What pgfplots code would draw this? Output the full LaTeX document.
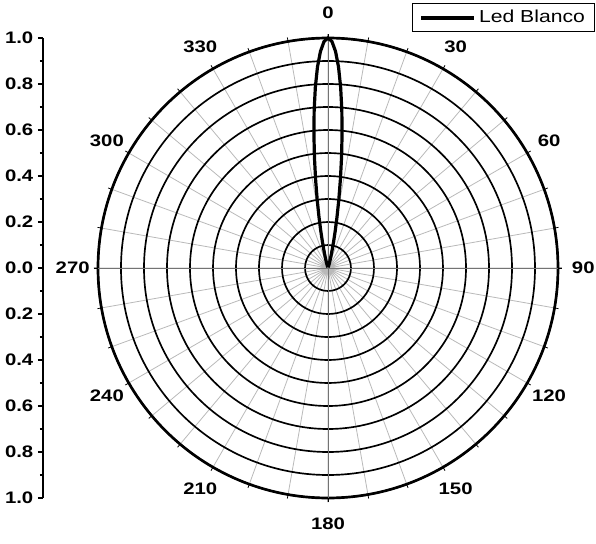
\documentclass[border=0pt]{standalone}
\usepackage{fontspec}
\setmainfont{Liberation Sans}[FakeStretch=1.22]
\usepackage{pgfplots}
\usepgfplotslibrary{polar}
\pgfplotsset{compat=1.18}

\begin{document}
\begin{tikzpicture}[font=\fontsize{12.5}{14}\selectfont]
\useasboundingbox (-246pt,-206.25pt) rectangle (201pt,201pt);

% left radial scale
\begin{axis}[
    at={(-213.75pt,0pt)}, anchor=west,
    scale only axis, width=5pt, height=345pt,
    xmin=0, xmax=1, ymin=-1, ymax=1,
    axis x line=none, axis y line*=left,
    y axis line style={-, line width=1pt},
    ytick={-1,-0.8,-0.6,-0.4,-0.2,0,0.2,0.4,0.6,0.8,1},
    yticklabels={1.0,0.8,0.6,0.4,0.2,0.0,0.2,0.4,0.6,0.8,1.0},
    yticklabel style={font=\fontsize{12.5}{14}\selectfont\bfseries},
    minor y tick num=1,
    tick align=outside,
    major tick length=3.75pt, minor tick length=2.25pt,
    ytick style={line width=0.8pt, black},
]
\end{axis}

\begin{polaraxis}[
    at={(0pt,0pt)}, anchor=center,
    scale only axis, width=345pt, height=345pt,
    ymin=0, ymax=1,
    ytick={0.1,0.2,0.3,0.4,0.5,0.6,0.7,0.8,0.9,1},
    yticklabels={},
    ytick style={draw=none},
    y axis line style={draw=none},
    xtick={0,10,...,350},
    xticklabels={},
    xtick style={black, line width=0.6pt},
    major tick length=3pt,
    grid=major,
    major x grid style={gray!55, line width=0.6pt},
    major y grid style={black, line width=1.25pt},
    extra x ticks={0,90,180,270},
    extra x tick labels={},
    extra x tick style={grid=major, major x grid style={gray!90!black, line width=0.7pt}},
    axis line style={line width=2pt},
    clip=false,
    legend style={at={(1.08,1.076)}, anchor=north east, draw=black,
        line width=0.8pt, inner xsep=5pt, inner ysep=3pt,
        font=\fontsize{13}{15}\selectfont},
    legend image code/.code={\draw[#1, line width=3pt] (0pt,0pt) -- (40pt,0pt);},
]
\addplot[black, line width=2.4pt, x filter/.expression={90-x}] coordinates {
    (-20,0.003) (-18,0.008) (-16,0.022) (-15,0.035) (-14,0.054) (-13,0.081)
    (-12,0.118) (-11,0.166) (-10,0.226) (-9,0.300) (-8,0.386) (-7,0.483)
    (-6,0.586) (-5,0.690) (-4,0.788) (-3,0.875) (-2,0.942) (-1,0.985)
    (0,1.000)
    (1,0.985) (2,0.942) (3,0.875) (4,0.788) (5,0.690) (6,0.586)
    (7,0.483) (8,0.386) (9,0.300) (10,0.226) (11,0.166) (12,0.118)
    (13,0.081) (14,0.054) (15,0.035) (16,0.022) (18,0.008) (20,0.003)
};
\addlegendentry{Led Blanco}
\pgfplotsinvokeforeach{0,30,...,330}{
    \node[font=\fontsize{12.5}{14}\selectfont\bfseries] at (axis cs:{90-#1},1.11) {#1};
}
\end{polaraxis}
\end{tikzpicture}
\end{document}
